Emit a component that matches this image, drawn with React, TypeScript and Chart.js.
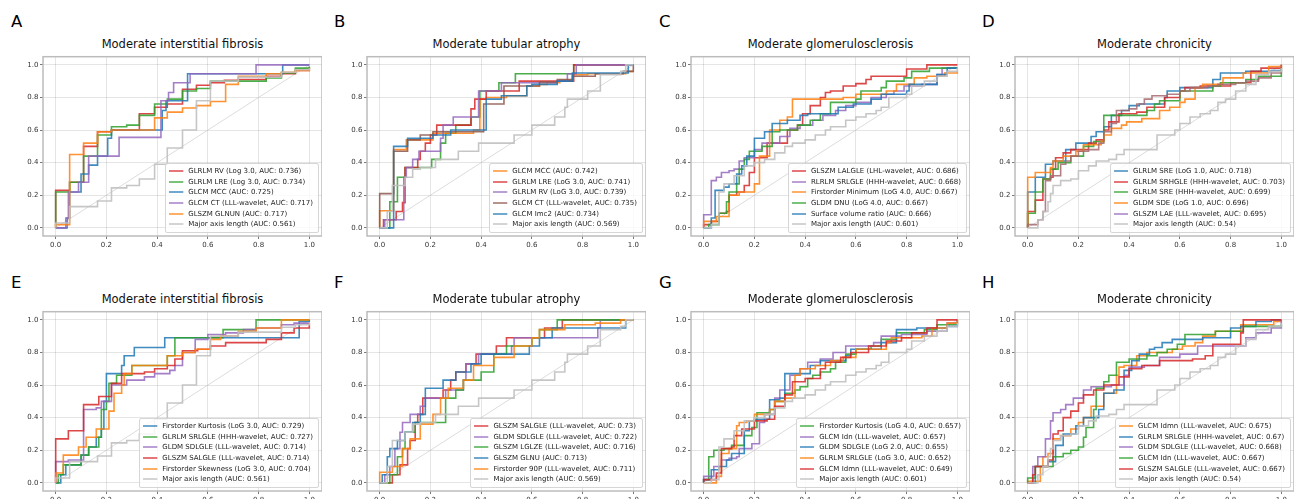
import React, { useEffect, useRef } from "react";
import { Chart, registerables } from "chart.js";
Chart.register(...registerables);

type Pt = [number, number];

// ---------- shared ----------
const tickValues = [0, 0.2, 0.4, 0.6, 0.8, 1.0];
const diagonal: Pt[] = [[0, 0], [1, 1]];

const RED = "rgba(214,39,40,0.85)";
const GREEN = "rgba(44,160,44,0.85)";
const BLUE = "rgba(31,119,180,0.85)";
const PURPLE = "rgba(148,103,189,0.85)";
const ORANGE = "rgba(255,127,14,0.85)";
const BROWN = "rgba(140,86,75,0.85)";
const MAUVE = "rgba(165,105,110,0.85)";
const GRAY = "rgba(192,192,192,0.9)";
const DIAG = "rgba(200,200,200,0.9)";

const titleIF = "Moderate interstitial fibrosis";
const titleTA = "Moderate tubular atrophy";
const titleGS = "Moderate glomerulosclerosis";
const titleCH = "Moderate chronicity";

// ---------- Major axis length (shared baselines) ----------
const majorIF: Pt[] = [[0,0],[0,0.03],[0.055,0.13],[0.165,0.165],[0.22,0.245],[0.28,0.26],[0.33,0.3],[0.39,0.39],[0.44,0.49],[0.5,0.6],[0.555,0.78],[0.61,0.9],[0.72,0.925],[0.89,0.955],[0.945,0.97],[1,0.98]];
const majorTA: Pt[] = [[0,0],[0.03,0.1],[0.05,0.26],[0.1,0.31],[0.13,0.36],[0.16,0.37],[0.22,0.42],[0.31,0.47],[0.39,0.52],[0.5,0.52],[0.53,0.57],[0.6,0.63],[0.69,0.68],[0.73,0.74],[0.74,0.79],[0.82,0.84],[0.87,0.94],[0.95,0.96],[0.97,1.0],[1,1.0]];
const majorGS: Pt[] = [[0,0],[0.03,0.02],[0.06,0.22],[0.08,0.27],[0.12,0.32],[0.16,0.38],[0.2,0.4],[0.24,0.42],[0.28,0.46],[0.32,0.5],[0.35,0.52],[0.4,0.54],[0.44,0.57],[0.48,0.6],[0.5,0.62],[0.56,0.66],[0.6,0.68],[0.64,0.7],[0.68,0.72],[0.7,0.74],[0.73,0.8],[0.8,0.82],[0.82,0.87],[0.87,0.9],[0.92,0.93],[0.96,0.96],[1,0.98]];
const majorCH: Pt[] = [[0,0],[0.04,0.05],[0.06,0.1],[0.08,0.16],[0.09,0.21],[0.1,0.26],[0.13,0.29],[0.17,0.3],[0.2,0.35],[0.24,0.38],[0.27,0.41],[0.32,0.42],[0.35,0.45],[0.38,0.48],[0.51,0.57],[0.58,0.6],[0.6,0.64],[0.64,0.68],[0.68,0.7],[0.72,0.72],[0.75,0.77],[0.78,0.79],[0.82,0.84],[0.86,0.88],[0.9,0.94],[0.95,0.96],[1,0.98]];

// ---------- Panel A ----------
const aRV: Pt[] = [[0,0],[0,0.23],[0.055,0.28],[0.11,0.5],[0.165,0.59],[0.22,0.6],[0.33,0.7],[0.39,0.74],[0.44,0.76],[0.5,0.85],[0.555,0.875],[0.61,0.89],[0.665,0.905],[0.72,0.91],[0.83,0.93],[0.89,0.945],[0.945,0.965],[1,0.985]];
const aLRE: Pt[] = [[0,0],[0,0.22],[0.055,0.28],[0.11,0.44],[0.165,0.57],[0.22,0.62],[0.28,0.63],[0.33,0.69],[0.39,0.76],[0.44,0.79],[0.5,0.84],[0.555,0.855],[0.61,0.9],[0.83,0.92],[0.89,0.95],[0.945,0.98],[1,0.99]];
const aMCC: Pt[] = [[0,0],[0.045,0.06],[0.055,0.22],[0.1,0.33],[0.13,0.385],[0.165,0.44],[0.205,0.55],[0.22,0.6],[0.42,0.72],[0.435,0.78],[0.52,0.945],[0.895,1.0],[1,1.0]];
const aCT: Pt[] = [[0,0],[0.04,0.06],[0.05,0.22],[0.09,0.28],[0.13,0.44],[0.25,0.555],[0.415,0.78],[0.445,0.83],[0.465,0.89],[0.53,0.945],[0.79,1.0],[1,1.0]];
const aGLNUN: Pt[] = [[0,0],[0,0.02],[0.055,0.45],[0.11,0.52],[0.165,0.59],[0.22,0.6],[0.39,0.675],[0.44,0.71],[0.5,0.735],[0.555,0.75],[0.61,0.775],[0.67,0.88],[0.72,0.93],[0.83,0.945],[0.89,0.955],[0.945,0.965],[1,0.97]];

// ---------- Panel B ----------
const bMCC: Pt[] = [[0,0],[0,0.105],[0.055,0.48],[0.105,0.54],[0.21,0.58],[0.37,0.6],[0.395,0.79],[0.42,0.8],[0.5,0.81],[0.58,0.87],[0.63,0.88],[0.66,0.89],[0.71,0.905],[0.76,0.94],[0.82,0.945],[0.97,0.96],[1,0.96]];
const bLRE: Pt[] = [[0,0],[0.015,0.05],[0.065,0.1],[0.09,0.155],[0.1,0.37],[0.15,0.42],[0.16,0.47],[0.18,0.52],[0.2,0.57],[0.225,0.63],[0.36,0.73],[0.375,0.79],[0.42,0.84],[0.55,0.9],[0.765,1.0],[1,1.0]];
const bRV: Pt[] = [[0,0],[0.02,0.05],[0.095,0.31],[0.105,0.37],[0.13,0.42],[0.155,0.47],[0.24,0.55],[0.25,0.63],[0.29,0.68],[0.39,0.84],[0.48,0.89],[0.7,0.9],[0.74,0.945],[0.775,1.0],[1,1.0]];
const bCT: Pt[] = [[0,0],[0,0.21],[0.055,0.47],[0.11,0.54],[0.16,0.57],[0.21,0.59],[0.41,0.76],[0.49,0.87],[0.63,0.895],[0.7,0.91],[0.76,0.93],[0.85,0.945],[0.96,0.96],[1,1.0]];
const bImc2: Pt[] = [[0,0],[0.055,0.5],[0.11,0.55],[0.21,0.57],[0.28,0.6],[0.42,0.79],[0.48,0.81],[0.58,0.87],[0.6,0.88],[0.7,0.9],[0.76,0.95],[0.98,1.0],[1,1.0]];
const bExtra: Pt[] = [[0,0],[0.04,0.16],[0.07,0.31],[0.1,0.37],[0.205,0.42],[0.24,0.52],[0.26,0.58],[0.3,0.63],[0.36,0.68],[0.395,0.84],[0.47,0.89],[0.535,0.945],[0.765,1.0],[1,1.0]];

// ---------- Panel C ----------
const cLALGLE: Pt[] = [[0,0],[0,0.02],[0.03,0.04],[0.06,0.09],[0.09,0.1],[0.1,0.2],[0.13,0.22],[0.16,0.26],[0.18,0.34],[0.2,0.43],[0.25,0.52],[0.33,0.6],[0.37,0.63],[0.39,0.7],[0.42,0.75],[0.46,0.8],[0.48,0.83],[0.5,0.84],[0.55,0.87],[0.6,0.885],[0.64,0.91],[0.66,0.93],[0.8,0.975],[0.88,1.0],[1,1.0]];
const cSRLGLE: Pt[] = [[0,0],[0,0.08],[0.03,0.29],[0.05,0.31],[0.07,0.34],[0.1,0.35],[0.12,0.36],[0.14,0.41],[0.16,0.43],[0.2,0.48],[0.23,0.52],[0.3,0.56],[0.34,0.61],[0.38,0.63],[0.43,0.66],[0.47,0.69],[0.52,0.72],[0.56,0.75],[0.6,0.77],[0.66,0.8],[0.72,0.82],[0.75,0.84],[0.79,0.87],[0.86,0.88],[0.92,0.94],[0.94,0.98],[1,0.98]];
const cMinimum: Pt[] = [[0,0],[0,0.04],[0.05,0.07],[0.1,0.2],[0.14,0.22],[0.2,0.27],[0.22,0.44],[0.26,0.6],[0.3,0.66],[0.33,0.68],[0.35,0.79],[0.55,0.8],[0.6,0.82],[0.72,0.84],[0.76,0.88],[0.83,0.92],[0.88,0.93],[0.95,0.95],[1,0.96]];
const cDNU: Pt[] = [[0,0],[0.02,0.02],[0.06,0.09],[0.09,0.16],[0.1,0.22],[0.13,0.27],[0.14,0.36],[0.16,0.42],[0.18,0.47],[0.23,0.5],[0.27,0.59],[0.3,0.6],[0.37,0.63],[0.42,0.66],[0.46,0.7],[0.5,0.77],[0.6,0.79],[0.62,0.84],[0.7,0.86],[0.72,0.9],[0.79,0.92],[0.82,0.96],[0.89,0.98],[1,0.98]];
const cSVR: Pt[] = [[0,0],[0.03,0.06],[0.045,0.23],[0.08,0.25],[0.1,0.27],[0.13,0.33],[0.15,0.38],[0.17,0.44],[0.2,0.55],[0.24,0.59],[0.27,0.64],[0.33,0.66],[0.38,0.69],[0.41,0.7],[0.53,0.74],[0.59,0.76],[0.66,0.79],[0.7,0.82],[0.8,0.84],[0.81,0.88],[0.92,0.94],[0.96,0.98],[1,0.98]];

// ---------- Panel D ----------
const dSRElog: Pt[] = [[0,0],[0,0.22],[0.03,0.31],[0.07,0.39],[0.1,0.41],[0.15,0.48],[0.19,0.52],[0.25,0.56],[0.27,0.59],[0.3,0.62],[0.33,0.69],[0.37,0.72],[0.4,0.75],[0.44,0.76],[0.54,0.8],[0.55,0.84],[0.6,0.86],[0.73,0.91],[0.76,0.95],[0.86,0.96],[0.96,0.965],[1,0.97]];
const dSRHGLE: Pt[] = [[0,0],[0,0.1],[0.03,0.17],[0.06,0.3],[0.09,0.31],[0.1,0.36],[0.11,0.43],[0.14,0.46],[0.17,0.48],[0.24,0.52],[0.27,0.54],[0.3,0.6],[0.32,0.65],[0.36,0.7],[0.43,0.71],[0.47,0.74],[0.54,0.8],[0.6,0.84],[0.62,0.86],[0.68,0.87],[0.8,0.89],[0.88,0.96],[0.92,0.98],[1,1.0]];
const dSREhhh: Pt[] = [[0,0],[0,0.09],[0.03,0.22],[0.06,0.3],[0.09,0.36],[0.12,0.4],[0.17,0.44],[0.22,0.5],[0.26,0.53],[0.3,0.69],[0.47,0.72],[0.5,0.76],[0.52,0.78],[0.6,0.84],[0.73,0.87],[0.76,0.89],[0.86,0.91],[0.91,0.93],[1,0.98]];
const dSDE: Pt[] = [[0,0],[0,0.31],[0.03,0.34],[0.09,0.37],[0.1,0.41],[0.14,0.44],[0.19,0.47],[0.22,0.51],[0.29,0.53],[0.3,0.57],[0.33,0.61],[0.37,0.63],[0.39,0.65],[0.45,0.67],[0.52,0.72],[0.56,0.74],[0.6,0.77],[0.62,0.79],[0.66,0.86],[0.69,0.88],[0.77,0.92],[0.85,0.95],[0.95,0.99],[1,1.0]];
const dLAE: Pt[] = [[0,0],[0,0.02],[0.04,0.05],[0.06,0.1],[0.07,0.29],[0.09,0.32],[0.13,0.39],[0.15,0.41],[0.17,0.44],[0.2,0.47],[0.24,0.48],[0.28,0.52],[0.3,0.59],[0.33,0.64],[0.35,0.72],[0.4,0.73],[0.43,0.76],[0.46,0.79],[0.49,0.81],[0.55,0.82],[0.6,0.84],[0.64,0.86],[0.71,0.87],[0.75,0.88],[0.82,0.89],[0.86,0.9],[0.91,0.92],[0.96,0.95],[1,1.0]];

// ---------- Panel E ----------
const eKurt: Pt[] = [[0,0],[0.02,0.05],[0.04,0.11],[0.1,0.17],[0.13,0.22],[0.16,0.28],[0.18,0.33],[0.19,0.5],[0.2,0.67],[0.26,0.72],[0.27,0.78],[0.31,0.83],[0.43,0.89],[0.96,0.99],[1,1.0]];
const eSRLGLE: Pt[] = [[0,0],[0.01,0.05],[0.03,0.11],[0.1,0.17],[0.13,0.22],[0.17,0.28],[0.18,0.45],[0.2,0.5],[0.21,0.61],[0.24,0.66],[0.3,0.72],[0.44,0.78],[0.47,0.89],[0.66,0.94],[0.79,1.0],[1,1.0]];
const eSDLGLE: Pt[] = [[0,0],[0,0.13],[0.05,0.14],[0.11,0.45],[0.16,0.46],[0.18,0.5],[0.22,0.6],[0.28,0.63],[0.35,0.65],[0.39,0.67],[0.45,0.69],[0.47,0.72],[0.5,0.8],[0.55,0.88],[0.6,0.91],[0.67,0.92],[0.74,0.94],[0.79,0.95],[0.89,0.97],[0.94,0.98],[1,0.98]];
const eSALGLE: Pt[] = [[0,0],[0,0.27],[0.05,0.32],[0.11,0.48],[0.17,0.53],[0.22,0.61],[0.26,0.67],[0.35,0.68],[0.39,0.7],[0.44,0.72],[0.47,0.76],[0.5,0.81],[0.56,0.82],[0.61,0.84],[0.67,0.86],[0.83,0.88],[0.89,0.92],[0.94,0.95],[1,0.98]];
const eSkew: Pt[] = [[0,0],[0,0.06],[0.03,0.17],[0.09,0.22],[0.12,0.28],[0.16,0.33],[0.21,0.44],[0.23,0.55],[0.26,0.6],[0.27,0.67],[0.3,0.72],[0.44,0.78],[0.5,0.8],[0.55,0.82],[0.61,0.88],[0.65,0.9],[0.72,0.93],[0.79,0.95],[0.89,1.0],[1,1.0]];

// ---------- Panel F ----------
const fSALGLE: Pt[] = [[0,0],[0.05,0.05],[0.08,0.11],[0.11,0.21],[0.12,0.26],[0.14,0.37],[0.15,0.42],[0.17,0.52],[0.25,0.57],[0.28,0.63],[0.3,0.68],[0.34,0.73],[0.38,0.79],[0.46,0.84],[0.5,0.89],[0.65,0.95],[0.72,1.0],[1,1.0]];
const fSDLGLE: Pt[] = [[0,0],[0.02,0.05],[0.04,0.1],[0.06,0.21],[0.08,0.31],[0.09,0.37],[0.12,0.42],[0.16,0.47],[0.18,0.52],[0.26,0.57],[0.33,0.63],[0.34,0.73],[0.39,0.79],[0.52,0.84],[0.53,0.89],[0.86,0.95],[0.87,1.0],[1,1.0]];
const fLGLZE: Pt[] = [[0,0],[0.04,0.05],[0.07,0.16],[0.09,0.21],[0.1,0.31],[0.14,0.37],[0.26,0.52],[0.3,0.57],[0.33,0.63],[0.4,0.68],[0.45,0.79],[0.5,0.84],[0.6,0.89],[0.63,0.94],[0.7,1.0],[1,1.0]];
const fGLNU: Pt[] = [[0,0],[0.01,0.05],[0.03,0.16],[0.04,0.21],[0.07,0.26],[0.1,0.31],[0.13,0.37],[0.16,0.42],[0.18,0.58],[0.25,0.63],[0.3,0.68],[0.36,0.73],[0.4,0.79],[0.59,0.84],[0.63,0.89],[0.68,0.95],[0.97,1.0],[1,1.0]];
const f90P: Pt[] = [[0,0],[0,0.065],[0.05,0.1],[0.09,0.21],[0.12,0.27],[0.16,0.36],[0.21,0.42],[0.24,0.52],[0.27,0.58],[0.33,0.63],[0.37,0.72],[0.45,0.77],[0.53,0.84],[0.6,0.89],[0.63,0.94],[0.73,0.97],[0.85,0.98],[0.95,1.0],[1,1.0]];

// ---------- Panel G ----------
const gKurt: Pt[] = [[0,0],[0,0.02],[0.02,0.16],[0.04,0.2],[0.08,0.21],[0.11,0.23],[0.16,0.29],[0.19,0.34],[0.21,0.43],[0.26,0.45],[0.28,0.5],[0.32,0.55],[0.36,0.57],[0.38,0.59],[0.41,0.64],[0.43,0.66],[0.46,0.68],[0.5,0.7],[0.52,0.74],[0.56,0.79],[0.6,0.82],[0.66,0.84],[0.7,0.88],[0.76,0.92],[0.87,0.94],[0.92,0.97],[1,1.0]];
const gIdn: Pt[] = [[0,0],[0,0.04],[0.04,0.1],[0.07,0.14],[0.1,0.15],[0.13,0.16],[0.14,0.21],[0.19,0.24],[0.22,0.37],[0.24,0.42],[0.28,0.52],[0.3,0.57],[0.34,0.66],[0.38,0.7],[0.41,0.74],[0.46,0.76],[0.51,0.8],[0.56,0.84],[0.67,0.86],[0.7,0.9],[0.78,0.91],[0.88,0.93],[0.96,0.98],[1,1.0]];
const gSDLGLE: Pt[] = [[0,0],[0,0.02],[0.03,0.08],[0.06,0.1],[0.09,0.14],[0.11,0.18],[0.16,0.32],[0.18,0.38],[0.2,0.39],[0.26,0.51],[0.3,0.52],[0.32,0.67],[0.4,0.67],[0.42,0.72],[0.46,0.75],[0.56,0.78],[0.58,0.82],[0.7,0.86],[0.76,0.94],[0.84,0.95],[0.96,0.96],[1,0.98]];
const gSRLGLE: Pt[] = [[0,0],[0.05,0.04],[0.07,0.18],[0.1,0.21],[0.13,0.35],[0.14,0.37],[0.17,0.38],[0.2,0.42],[0.26,0.45],[0.28,0.5],[0.32,0.52],[0.36,0.66],[0.38,0.7],[0.44,0.72],[0.5,0.75],[0.55,0.77],[0.6,0.82],[0.72,0.86],[0.74,0.89],[0.86,0.9],[0.9,0.95],[0.96,0.98],[1,1.0]];
const gIdmn: Pt[] = [[0,0],[0,0.02],[0.05,0.06],[0.07,0.21],[0.11,0.22],[0.12,0.29],[0.15,0.33],[0.2,0.38],[0.25,0.39],[0.28,0.47],[0.32,0.54],[0.35,0.62],[0.4,0.64],[0.46,0.7],[0.48,0.74],[0.54,0.77],[0.58,0.8],[0.65,0.84],[0.72,0.87],[0.78,0.89],[0.82,0.92],[0.88,0.95],[0.92,1.0],[1,1.0]];

// ---------- Panel H ----------
const hIdmn: Pt[] = [[0,0],[0,0.01],[0.05,0.1],[0.06,0.16],[0.08,0.18],[0.1,0.27],[0.13,0.29],[0.17,0.33],[0.2,0.37],[0.22,0.4],[0.25,0.47],[0.3,0.55],[0.35,0.66],[0.36,0.71],[0.38,0.72],[0.43,0.78],[0.47,0.8],[0.57,0.82],[0.61,0.84],[0.66,0.86],[0.69,0.9],[0.74,0.93],[0.84,0.97],[0.97,0.99],[1,0.99]];
const hSRLGLE: Pt[] = [[0,0],[0.03,0.1],[0.08,0.13],[0.11,0.23],[0.14,0.3],[0.19,0.35],[0.22,0.4],[0.28,0.45],[0.3,0.55],[0.34,0.57],[0.38,0.69],[0.41,0.75],[0.44,0.79],[0.48,0.82],[0.5,0.83],[0.53,0.86],[0.57,0.88],[0.69,0.89],[0.8,0.95],[0.84,0.96],[0.9,0.99],[0.96,1.0],[1,1.0]];
const hSDLGLE: Pt[] = [[0,0],[0.02,0.1],[0.04,0.16],[0.07,0.27],[0.09,0.38],[0.1,0.43],[0.13,0.45],[0.15,0.48],[0.18,0.52],[0.22,0.57],[0.25,0.59],[0.33,0.6],[0.38,0.66],[0.4,0.71],[0.46,0.72],[0.52,0.77],[0.6,0.79],[0.67,0.84],[0.76,0.84],[0.86,0.89],[0.9,0.92],[0.96,0.95],[1,1.0]];
const hIdn: Pt[] = [[0,0],[0,0.03],[0.03,0.1],[0.1,0.16],[0.14,0.18],[0.17,0.2],[0.2,0.22],[0.22,0.28],[0.23,0.34],[0.26,0.45],[0.27,0.58],[0.3,0.62],[0.32,0.66],[0.35,0.74],[0.4,0.76],[0.47,0.78],[0.51,0.8],[0.55,0.82],[0.59,0.85],[0.62,0.91],[0.74,0.93],[0.85,0.96],[1,0.97]];
const hSALGLE: Pt[] = [[0,0],[0.02,0.05],[0.03,0.1],[0.08,0.14],[0.1,0.3],[0.12,0.32],[0.14,0.4],[0.17,0.44],[0.2,0.49],[0.22,0.54],[0.26,0.57],[0.3,0.6],[0.36,0.65],[0.4,0.7],[0.45,0.72],[0.52,0.75],[0.65,0.76],[0.7,0.78],[0.73,0.85],[0.84,0.92],[0.85,1.0],[1,1.0]];

interface Series { label?: string; color: string; lineColor?: string; points: Pt[] }
interface PanelDef { letter: string; title: string; col: number; row: number; series: Series[] }

const panels: PanelDef[] = [
  { letter: "A", title: titleIF, col: 0, row: 0, series: [
    { label: "GLRLM RV (Log 3.0, AUC: 0.736)", color: RED, points: aRV },
    { label: "GLRLM LRE (Log 3.0, AUC: 0.734)", color: GREEN, points: aLRE },
    { label: "GLCM MCC (AUC: 0.725)", color: BLUE, points: aMCC },
    { label: "GLCM CT (LLL-wavelet, AUC: 0.717)", color: PURPLE, points: aCT },
    { label: "GLSZM GLNUN (AUC: 0.717)", color: ORANGE, points: aGLNUN },
    { label: "Major axis length (AUC: 0.561)", color: GRAY, points: majorIF },
  ] },
  { letter: "B", title: titleTA, col: 1, row: 0, series: [
    { color: GREEN, points: bExtra },
    { label: "GLCM MCC (AUC: 0.742)", color: ORANGE, points: bMCC },
    { label: "GLRLM LRE (LoG 3.0, AUC: 0.741)", color: RED, points: bLRE },
    { label: "GLRLM RV (LoG 3.0, AUC: 0.739)", color: PURPLE, points: bRV },
    { label: "GLCM CT (LLL-wavelet, AUC: 0.735)", color: BROWN, points: bCT },
    { label: "GLCM Imc2 (AUC: 0.734)", color: BLUE, points: bImc2 },
    { label: "Major axis length (AUC: 0.569)", color: GRAY, points: majorTA },
  ] },
  { letter: "C", title: titleGS, col: 2, row: 0, series: [
    { label: "GLSZM LALGLE (LHL-wavelet, AUC: 0.686)", color: RED, points: cLALGLE },
    { label: "RLRLM SRLGLE (HHH-wavelet, AUC: 0.668)", color: PURPLE, points: cSRLGLE },
    { label: "Firstorder Minimum (LoG 4.0, AUC: 0.667)", color: ORANGE, points: cMinimum },
    { label: "GLDM DNU (LoG 4.0, AUC: 0.667)", color: GREEN, points: cDNU },
    { label: "Surface volume ratio (AUC: 0.666)", color: BLUE, points: cSVR },
    { label: "Major axis length (AUC: 0.601)", color: GRAY, points: majorGS },
  ] },
  { letter: "D", title: titleCH, col: 3, row: 0, series: [
    { label: "GLRLM SRE (LoG 1.0, AUC: 0.718)", color: BLUE, points: dSRElog },
    { label: "GLRLM SRHGLE (HHH-wavelet, AUC: 0.703)", color: RED, points: dSRHGLE },
    { label: "GLRLM SRE (HHH-wavelet, AUC: 0.699)", color: GREEN, points: dSREhhh },
    { label: "GLDM SDE (LoG 1.0, AUC: 0.696)", color: ORANGE, points: dSDE },
    { label: "GLSZM LAE (LLL-wavelet, AUC: 0.695)", color: PURPLE, lineColor: MAUVE, points: dLAE },
    { label: "Major axis length (AUC: 0.54)", color: GRAY, points: majorCH },
  ] },
  { letter: "E", title: titleIF, col: 0, row: 1, series: [
    { label: "Firstorder Kurtosis (LoG 3.0, AUC: 0.729)", color: BLUE, points: eKurt },
    { label: "GLRLM SRLGLE (HHH-wavelet, AUC: 0.727)", color: GREEN, points: eSRLGLE },
    { label: "GLDM SDLGLE (LLL-wavelet, AUC: 0.714)", color: PURPLE, points: eSDLGLE },
    { label: "GLSZM SALGLE (LLL-wavelet, AUC: 0.714)", color: RED, points: eSALGLE },
    { label: "Firstorder Skewness (LoG 3.0, AUC: 0.704)", color: ORANGE, points: eSkew },
    { label: "Major axis length (AUC: 0.561)", color: GRAY, points: majorIF },
  ] },
  { letter: "F", title: titleTA, col: 1, row: 1, series: [
    { label: "GLSZM SALGLE (LLL-wavelet, AUC: 0.73)", color: RED, points: fSALGLE },
    { label: "GLDM SDLGLE (LLL-wavelet, AUC: 0.722)", color: PURPLE, points: fSDLGLE },
    { label: "GLSZM LGLZE (LLL-wavelet, AUC: 0.716)", color: GREEN, points: fLGLZE },
    { label: "GLSZM GLNU (AUC: 0.713)", color: BLUE, points: fGLNU },
    { label: "Firstorder 90P (LLL-wavelet, AUC: 0.711)", color: ORANGE, points: f90P },
    { label: "Major axis length (AUC: 0.569)", color: GRAY, points: majorTA },
  ] },
  { letter: "G", title: titleGS, col: 2, row: 1, series: [
    { label: "Firstorder Kurtosis (LoG 4.0, AUC: 0.657)", color: GREEN, points: gKurt },
    { label: "GLCM Idn (LLL-wavelet, AUC: 0.657)", color: PURPLE, points: gIdn },
    { label: "GLDM SDLGLE (LoG 2.0, AUC: 0.655)", color: BLUE, points: gSDLGLE },
    { label: "GLRLM SRLGLE (LoG 3.0, AUC: 0.652)", color: ORANGE, points: gSRLGLE },
    { label: "GLCM Idmn (LLL-wavelet, AUC: 0.649)", color: RED, points: gIdmn },
    { label: "Major axis length (AUC: 0.601)", color: GRAY, points: majorGS },
  ] },
  { letter: "H", title: titleCH, col: 3, row: 1, series: [
    { label: "GLCM Idmn (LLL-wavelet, AUC: 0.675)", color: ORANGE, points: hIdmn },
    { label: "GLRLM SRLGLE (HHH-wavelet, AUC: 0.67)", color: BLUE, points: hSRLGLE },
    { label: "GLDM SDLGLE (LLL-wavelet, AUC: 0.668)", color: PURPLE, points: hSDLGLE },
    { label: "GLCM Idn (LLL-wavelet, AUC: 0.667)", color: GREEN, points: hIdn },
    { label: "GLSZM SALGLE (LLL-wavelet, AUC: 0.667)", color: RED, points: hSALGLE },
    { label: "Major axis length (AUC: 0.54)", color: GRAY, points: majorCH },
  ] },
];

// ---------- layout ----------
const colLeft = [43, 367, 691, 1015];
const rowTop = [51, 306];
const letterLeft = [11, 334, 659, 982];
const letterTop = [14, 275];
const PLOT_W = 279;
const PLOT_H = 185;
const Y_AXIS_W = 30;
const X_AXIS_H = 16;
const FONT = "'DejaVu Sans', sans-serif";

const framePlugin = {
  id: "frame",
  afterDatasetsDraw(chart: any) {
    const { ctx, chartArea } = chart;
    const { left, top, right, bottom } = chartArea;
    ctx.save();
    ctx.strokeStyle = "#bcbcbc";
    ctx.lineWidth = 1.5;
    ctx.strokeRect(left, top, right - left, bottom - top);
    ctx.restore();
  },
};

function axis(fit: (s: any) => void) {
  return {
    type: "linear" as const,
    min: -0.05,
    max: 1.05,
    afterBuildTicks: (s: any) => { s.ticks = tickValues.map((v) => ({ value: v })); },
    afterFit: fit,
    grid: {
      color: "rgba(0,0,0,0.13)",
      lineWidth: 0.8,
      borderDash: [2, 2],
      tickColor: "#555",
      tickLength: 3,
      tickWidth: 0.8,
      tickBorderDash: [],
    },
    border: { display: false },
    ticks: {
      font: { family: FONT, size: 7 },
      color: "#333",
      padding: 1.5,
      maxRotation: 0,
      autoSkip: false,
      callback: (v: any) => Number(v).toFixed(1),
    },
  };
}

function Panel({ p }: { p: PanelDef }) {
  const ref = useRef<HTMLCanvasElement>(null);
  useEffect(() => {
    const canvas = ref.current!;
    const n = p.series.length;
    const datasets: any[] = p.series.map((s, i) => ({
      data: s.points.map(([x, y]) => ({ x, y })),
      borderColor: s.lineColor ?? s.color,
      borderWidth: 1.6,
      stepped: "before",
      fill: false,
      pointRadius: 0,
      tension: 0,
      order: n - i,
    }));
    datasets.push({
      data: diagonal.map(([x, y]) => ({ x, y })),
      borderColor: DIAG,
      borderWidth: 0.7,
      fill: false,
      pointRadius: 0,
      order: n + 5,
    });
    const chart = new Chart(canvas, {
      type: "line",
      data: { datasets },
      options: {
        animation: false,
        responsive: false,
        devicePixelRatio: 1,
        layout: { padding: 0 },
        plugins: { legend: { display: false }, tooltip: { enabled: false }, title: { display: false } },
        events: [],
        scales: {
          x: axis((s: any) => { s.height = X_AXIS_H; }),
          y: axis((s: any) => { s.width = Y_AXIS_W; }),
        },
      } as any,
      plugins: [framePlugin],
    });
    return () => chart.destroy();
  }, [p]);

  const L = colLeft[p.col];
  const T = rowTop[p.row];
  const legendItems = p.series.filter((s) => s.label);
  return (
    <>
      <div style={{ position: "absolute", left: letterLeft[p.col], top: letterTop[p.row], fontFamily: FONT, fontSize: 16.5, lineHeight: "16.5px", color: "#000" }}>{p.letter}</div>
      <div style={{ position: "absolute", left: L, top: T - 13.3, width: PLOT_W, textAlign: "center", fontFamily: FONT, fontSize: 11.5, lineHeight: "12px", color: "#111", whiteSpace: "nowrap" }}>{p.title}</div>
      <canvas ref={ref} width={PLOT_W + Y_AXIS_W} height={PLOT_H + X_AXIS_H}
        style={{ position: "absolute", left: L - Y_AXIS_W, top: T, width: PLOT_W + Y_AXIS_W, height: PLOT_H + X_AXIS_H }} />
      <div style={{ position: "absolute", left: L, top: T, width: PLOT_W, height: PLOT_H, pointerEvents: "none" }}>
        <div style={{ position: "absolute", right: 2.7, bottom: 2.7, background: "rgba(255,255,255,0.8)", border: "1px solid rgba(204,204,204,0.8)", borderRadius: 2.5, padding: "2px 5.3px 3px 3.3px", fontFamily: FONT, fontSize: 7, color: "#222" }}>
          {legendItems.map((s, i) => (
            <div key={i} style={{ display: "flex", alignItems: "center", height: 10.54, whiteSpace: "nowrap" }}>
              <svg width={14.3} height={6} style={{ marginRight: 4.7, flex: "none", display: "block" }}>
                <line x1={0} y1={3} x2={14.3} y2={3} stroke={s.color} strokeWidth={1.5} />
              </svg>
              <span>{s.label}</span>
            </div>
          ))}
        </div>
      </div>
    </>
  );
}

export default function App() {
  return (
    <div style={{ position: "absolute", left: 0, top: 0, width: 1296, height: 499, background: "#fff", overflow: "hidden" }}>
      {panels.map((p) => <Panel key={p.letter} p={p} />)}
    </div>
  );
}
